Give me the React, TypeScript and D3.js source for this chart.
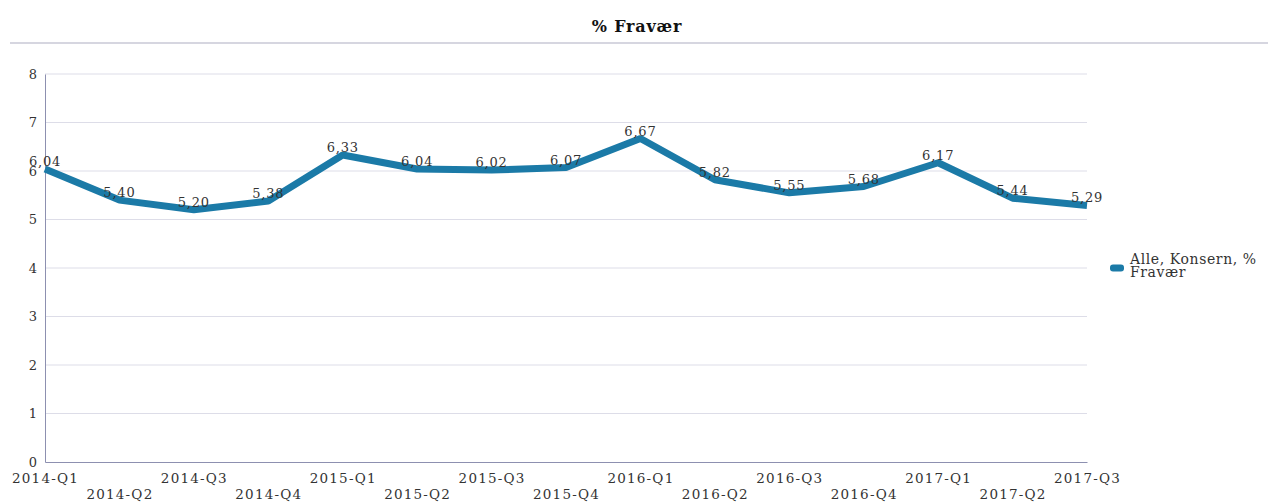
import * as React from 'react';
import * as d3 from 'd3';

const categories = [
  '2014-Q1', '2014-Q2', '2014-Q3', '2014-Q4',
  '2015-Q1', '2015-Q2', '2015-Q3', '2015-Q4',
  '2016-Q1', '2016-Q2', '2016-Q3', '2016-Q4',
  '2017-Q1', '2017-Q2', '2017-Q3'
];
const fravaer = [6.04, 5.40, 5.20, 5.38, 6.33, 6.04, 6.02, 6.07, 6.67, 5.82, 5.55, 5.68, 6.17, 5.44, 5.29];
const yTicks = [0, 1, 2, 3, 4, 5, 6, 7, 8];
const title = '% Fravær';
const legendLines = ['Alle, Konsern, %', 'Fravær'];

const width = 1269;
const height = 503;
const margin = { top: 74, right: 182, bottom: 41, left: 45 };
const font = '"DejaVu Serif", serif';
const lineColor = '#1b7aa7';

export default function App() {
  const ref = React.useRef<SVGSVGElement>(null);

  React.useEffect(() => {
    const svg = d3.select(ref.current);
    svg.selectAll('*').remove();

    const innerW = width - margin.left - margin.right;
    const innerH = height - margin.top - margin.bottom;

    const x = d3.scalePoint<string>().domain(categories).range([0, innerW]);
    const y = d3.scaleLinear().domain([0, 8]).range([innerH, 0]);

    // header
    svg.append('text')
      .attr('x', 637).attr('y', 32)
      .attr('text-anchor', 'middle')
      .attr('font-family', font)
      .attr('font-weight', 'bold')
      .attr('font-size', 16)
      .attr('letter-spacing', 0.8)
      .attr('fill', '#111')
      .text(title);

    svg.append('line')
      .attr('x1', 10).attr('x2', 1268)
      .attr('y1', 43).attr('y2', 43)
      .attr('stroke', '#d6d6e0')
      .attr('stroke-width', 2);

    const g = svg.append('g')
      .attr('transform', `translate(${margin.left},${margin.top})`);

    // grid
    g.append('g').selectAll('line')
      .data(yTicks.filter(d => d > 0))
      .enter().append('line')
      .attr('x1', 0).attr('x2', innerW)
      .attr('y1', d => y(d)).attr('y2', d => y(d))
      .attr('stroke', '#dddde8')
      .attr('stroke-width', 1);

    // y axis
    const yAxis = g.append('g')
      .call(d3.axisLeft(y).tickValues(yTicks).tickSize(0).tickPadding(8));
    yAxis.select('.domain').attr('stroke', '#8d90b0');
    yAxis.selectAll('text')
      .attr('font-family', font)
      .attr('font-size', 13)
      .attr('fill', '#333');

    // x axis, labels staggered on two rows
    const xAxis = g.append('g')
      .attr('transform', `translate(0,${innerH})`)
      .call(d3.axisBottom(x).tickSize(0).tickPadding(0));
    xAxis.select('.domain').attr('stroke', '#8d90b0');
    xAxis.selectAll('text')
      .attr('font-family', font)
      .attr('font-size', 13.5)
      .attr('letter-spacing', 1.2)
      .attr('fill', '#333')
      .attr('dy', null)
      .attr('y', (d, i) => (i % 2 === 0 ? 21 : 37));

    // line
    const line = d3.line<number>()
      .x((d, i) => x(categories[i]) as number)
      .y(d => y(d));

    g.append('path')
      .datum(fravaer)
      .attr('fill', 'none')
      .attr('stroke', lineColor)
      .attr('stroke-width', 7)
      .attr('stroke-linejoin', 'bevel')
      .attr('d', line);

    // data labels
    g.append('g').selectAll('text')
      .data(fravaer)
      .enter().append('text')
      .attr('x', (d, i) => x(categories[i]) as number)
      .attr('y', d => y(d) - 3)
      .attr('text-anchor', 'middle')
      .attr('font-family', font)
      .attr('font-size', 13)
      .attr('letter-spacing', 0.8)
      .attr('fill', '#333')
      .text(d => d.toFixed(2).replace('.', ','));

    // legend
    const legend = svg.append('g').attr('transform', 'translate(1110,268)');
    legend.append('rect')
      .attr('x', 0).attr('y', -3.5)
      .attr('width', 14).attr('height', 7)
      .attr('rx', 3)
      .attr('fill', lineColor);
    legend.selectAll('text')
      .data(legendLines)
      .enter().append('text')
      .attr('x', 20)
      .attr('y', (d, i) => -4 + i * 13)
      .attr('font-family', font)
      .attr('font-size', 14)
      .attr('letter-spacing', 0.6)
      .attr('fill', '#333')
      .text(d => d);
  }, []);

  return (
    <svg ref={ref} width={width} height={height}
      style={{ position: 'absolute', left: 0, top: 0, background: '#fff' }} />
  );
}
